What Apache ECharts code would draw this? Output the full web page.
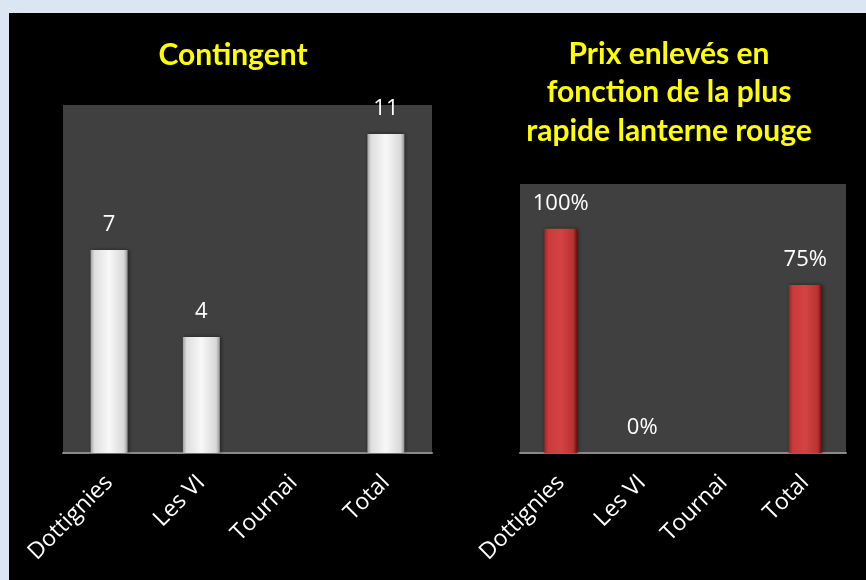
<!DOCTYPE html>
<html>
<head>
<meta charset="utf-8">
<script src="https://cdn.jsdelivr.net/npm/echarts@6/dist/echarts.min.js"></script>
<style>
  html, body { margin: 0; padding: 0; background: #dce6f2; }
  #chart { width: 866px; height: 580px; }
</style>
</head>
<body>
<div id="chart"></div>
<script>
const categories = ['Dottignies', 'Les VI', 'Tournai', 'Total'];
const contingentValues = [7, 4, null, 11];
const prixValues = [100, 0, null, 75];
const leftTitle = 'Contingent';
const rightTitle = 'Prix enlevés en\nfonction de la plus\nrapide lanterne rouge';

const chart = echarts.init(document.getElementById('chart'));

const whiteGrad = new echarts.graphic.LinearGradient(0, 0, 1, 0, [
  { offset: 0, color: '#a0a0a0' },
  { offset: 0.1, color: '#dedede' },
  { offset: 0.5, color: '#f8f8f8' },
  { offset: 0.9, color: '#d8d8d8' },
  { offset: 1, color: '#929292' }
]);
const redGrad = new echarts.graphic.LinearGradient(0, 0, 1, 0, [
  { offset: 0, color: '#9a2424' },
  { offset: 0.12, color: '#c93a3a' },
  { offset: 0.5, color: '#d44343' },
  { offset: 0.88, color: '#b83232' },
  { offset: 1, color: '#5e1010' }
]);

const xLabel = {
  rotate: 45,
  color: '#ffffff',
  fontFamily: 'Open Sans',
  fontSize: 23,
  margin: 26,
  interval: 0
};
const axisLine = { show: true, lineStyle: { color: '#8a8a8a', width: 2 } };
const dataLabel = {
  show: true,
  position: 'top',
  distance: 14,
  color: '#ffffff',
  fontFamily: 'Open Sans',
  fontSize: 22
};
const titleStyle = { color: '#ffff00', fontFamily: 'Lato', fontWeight: 'bold', fontSize: 30 };

chart.setOption({
  backgroundColor: '#dce6f2',
  animation: false,
  graphic: [{
    type: 'rect',
    z: -10,
    silent: true,
    shape: { x: 9, y: 13, width: 857, height: 567 },
    style: { fill: '#000000' }
  }],
  title: [{
    text: leftTitle,
    left: 233,
    top: 38,
    textAlign: 'center',
    padding: 0,
    textStyle: Object.assign({}, titleStyle, { lineHeight: 34 })
  }, {
    text: rightTitle,
    left: 669,
    top: 35,
    textAlign: 'center',
    padding: 0,
    textStyle: Object.assign({}, titleStyle, { lineHeight: 38.5 })
  }],
  grid: [
    { left: 63, top: 105, width: 369, height: 348, show: true, backgroundColor: '#404040', borderWidth: 0 },
    { left: 520, top: 184, width: 326, height: 269, show: true, backgroundColor: '#404040', borderWidth: 0 }
  ],
  xAxis: [
    { type: 'category', gridIndex: 0, data: categories, axisLine: axisLine, axisTick: { show: false }, axisLabel: xLabel },
    { type: 'category', gridIndex: 1, data: categories, axisLine: axisLine, axisTick: { show: false }, axisLabel: xLabel }
  ],
  yAxis: [
    { type: 'value', gridIndex: 0, min: 0, max: 12, show: false, splitLine: { show: false } },
    { type: 'value', gridIndex: 1, min: 0, max: 120, show: false, splitLine: { show: false } }
  ],
  series: [{
    type: 'bar',
    xAxisIndex: 0,
    yAxisIndex: 0,
    data: contingentValues,
    barWidth: 37,
    itemStyle: { color: whiteGrad, shadowColor: 'rgba(0,0,0,0.5)', shadowBlur: 4, shadowOffsetX: 1 },
    label: dataLabel
  }, {
    type: 'bar',
    xAxisIndex: 1,
    yAxisIndex: 1,
    data: prixValues,
    barWidth: 33,
    itemStyle: { color: redGrad, shadowColor: 'rgba(0,0,0,0.5)', shadowBlur: 4, shadowOffsetX: 1 },
    label: Object.assign({}, dataLabel, { formatter: '{c}%' })
  }]
});
</script>
</body>
</html>
